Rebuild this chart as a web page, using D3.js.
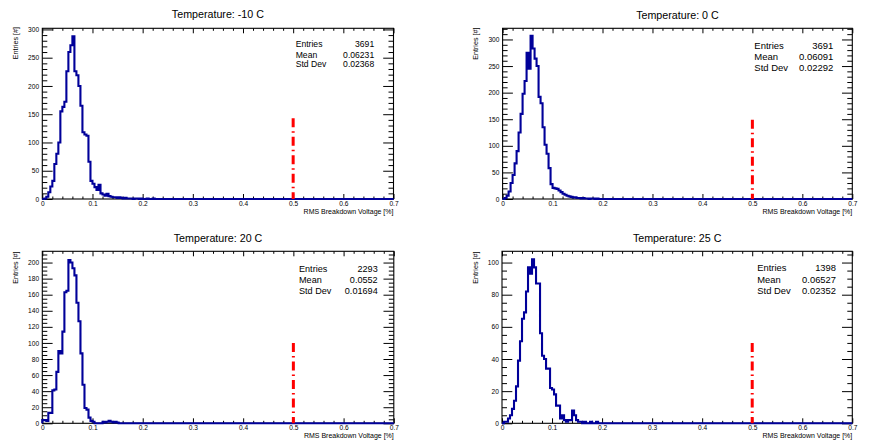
<!DOCTYPE html>
<html><head><meta charset="utf-8">
<script src="https://cdn.jsdelivr.net/npm/d3@7"></script>
<style>
body{margin:0;background:#fff}
svg{display:block}
text{font-family:"Liberation Sans",Arial,Helvetica,sans-serif;fill:#000}
</style>
</head><body>
<svg id="c" width="871" height="447"></svg>
<script>
// ---------------- data ----------------
const binWidth = 0.004;
const nBins = 175;
const xMaxValue = 0.7;
const xMajorTicks = [0, 0.1, 0.2, 0.3, 0.4, 0.5, 0.6, 0.7];
const xTickLabels = ["0", "0.1", "0.2", "0.3", "0.4", "0.5", "0.6", "0.7"];
const xMinorStep = 0.02;
const xTitle = "RMS Breakdown Voltage [%]";
const yTitle = "Entries [#]";

const titles = ["Temperature: -10 C", "Temperature: 0 C", "Temperature: 20 C", "Temperature: 25 C"];
const statLabels = ["Entries", "Mean", "Std Dev"];
const entries = ["3691", "3691", "2293", "1398"];
const means = ["0.06231", "0.06091", "0.0552", "0.06527"];
const stdDevs = ["0.02368", "0.02292", "0.01694", "0.02352"];

const countsM10 = [0,1,4,12,22,32,62,80,100,155,163,172,226,260,272,288,226,219,200,165,118,114,112,66,32,27,21,16,25,10,8,6,9,5,4,3,3,2,3,2,1,2,1,1,1,0,1,1,0,1,0,0,1,0,0,1];
const counts0   = [0,2,6,14,30,45,67,90,125,160,198,222,275,245,307,283,264,250,192,180,135,102,85,58,28,21,20,19,16,13,10,8,6,5,4,3,3,2,2,1,2,1,1,0,1,1,0,1];
const counts20  = [4,4,3,13,13,41,42,64,90,87,114,163,165,203,200,193,184,150,127,87,48,19,17,7,3,2,0,0,0,0,2,1,2,3,2,1,2,1];
const counts25  = [0,1,1,3,5,9,14,23,39,51,65,69,82,97,93,102,97,87,87,56,42,40,34,34,22,21,18,11,11,3,5,2,1,2,2,8,5,2,1,1,0,1,0,0,1,0,0,1];

const yMax = [302, 321, 214, 107];
const yMajorStep = [50, 50, 20, 20];
const yMinorStep = [10, 10, 5, 5];
const cutValue = 0.5;
const cutHeights = [143, 149, 100, 50];

// ---------------- layout ----------------
const allCounts = [countsM10, counts0, counts20, counts25];
const layout = [
  {x0:42.3, x1:393.5, y0:28.3, y1:199,   titleY:14.2, statX:295.7, statR:374.2, statY:[44.3,54.7,64.3], statFs:8.6, yTitleX:18, yTitleEnd:27},
  {x0:502.6, x1:852.3, y0:28.3, y1:199,  titleY:15,   statX:754.3, statR:833.3, statY:[45.3,56.5,67.3], statFs:9.5, yTitleX:478, yTitleEnd:27.5},
  {x0:42.3, x1:393.8, y0:251.3, y1:423.3, titleY:238.3, statX:299, statR:377.7, statY:[269,280,291], statFs:9.1, yTitleX:18, yTitleEnd:251.5},
  {x0:502, x1:852.3, y0:251.3, y1:423.3, titleY:238.3, statX:757.3, statR:836, statY:[268,279.7,291], statFs:9.4, yTitleX:478, yTitleEnd:251.5}
];
const histColor = "#000099";

const svg = d3.select("#c");

layout.forEach((L, p) => {
  const g = svg.append("g");
  const x = d3.scaleLinear().domain([0, xMaxValue]).range([L.x0, L.x1]);
  const y = d3.scaleLinear().domain([0, yMax[p]]).range([L.y1, L.y0]);

  const xMinor = d3.range(0, xMaxValue + 1e-9, xMinorStep).filter(v => Math.abs(v*10 - Math.round(v*10)) > 1e-6);
  const yMaj = d3.range(0, yMax[p] + 1e-9, yMajorStep[p]);
  const yMin = d3.range(0, yMax[p] + 1e-9, yMinorStep[p]).filter(v => v % yMajorStep[p] !== 0);

  const styleAxis = (sel, fs) => {
    sel.select(".domain").remove();
    sel.selectAll("line").attr("stroke", "#000").attr("stroke-width", 1);
    sel.selectAll("text").style("font-size", fs + "px").attr("fill", "#000");
  };

  // bottom axis
  g.append("g").attr("transform", `translate(0,${L.y1})`)
    .call(d3.axisBottom(x).tickValues(xMajorTicks).tickSize(-5).tickPadding(2)
      .tickFormat((d, i) => xTickLabels[i]))
    .call(s => styleAxis(s, 6.6));
  g.append("g").attr("transform", `translate(0,${L.y1})`)
    .call(d3.axisBottom(x).tickValues(xMinor).tickSize(-2.5).tickFormat(""))
    .call(s => styleAxis(s, 6.6));
  // top axis mirrored
  g.append("g").attr("transform", `translate(0,${L.y0})`)
    .call(d3.axisTop(x).tickValues(xMajorTicks).tickSize(-5).tickFormat(""))
    .call(s => styleAxis(s, 6.6));
  g.append("g").attr("transform", `translate(0,${L.y0})`)
    .call(d3.axisTop(x).tickValues(xMinor).tickSize(-2.5).tickFormat(""))
    .call(s => styleAxis(s, 6.6));
  // left axis
  g.append("g").attr("transform", `translate(${L.x0},0)`)
    .call(d3.axisLeft(y).tickValues(yMaj).tickSize(-10.3).tickPadding(3.2).tickFormat(d3.format("d")))
    .call(s => styleAxis(s, 6.6));
  g.append("g").attr("transform", `translate(${L.x0},0)`)
    .call(d3.axisLeft(y).tickValues(yMin).tickSize(-5).tickFormat(""))
    .call(s => styleAxis(s, 6.6));
  // right axis mirrored
  g.append("g").attr("transform", `translate(${L.x1},0)`)
    .call(d3.axisRight(y).tickValues(yMaj).tickSize(-10.3).tickFormat(""))
    .call(s => styleAxis(s, 6.6));
  g.append("g").attr("transform", `translate(${L.x1},0)`)
    .call(d3.axisRight(y).tickValues(yMin).tickSize(-5).tickFormat(""))
    .call(s => styleAxis(s, 6.6));

  // frame
  g.append("rect").attr("x", L.x0).attr("y", L.y0)
    .attr("width", L.x1 - L.x0).attr("height", L.y1 - L.y0)
    .attr("fill", "none").attr("stroke", "#000").attr("stroke-width", 1.1);

  // histogram
  const c = allCounts[p];
  const pts = d3.range(nBins).map(i => [i * binWidth, c[i] || 0]);
  pts.push([xMaxValue, 0]);
  const line = d3.line().x(d => x(d[0])).y(d => y(d[1])).curve(d3.curveStepAfter);
  g.append("path").attr("d", line([[0, 0]].concat(pts)))
    .attr("fill", "none").attr("stroke", histColor).attr("stroke-width", 2.1)
    .attr("stroke-linejoin", "miter");

  // cut line
  g.append("line")
    .attr("x1", x(cutValue)).attr("x2", x(cutValue))
    .attr("y1", y(cutHeights[p])).attr("y2", y(0))
    .attr("stroke", "#ff0000").attr("stroke-width", 3)
    .attr("stroke-dasharray", "9,4,1.5,4");

  // title
  g.append("text").attr("x", (L.x0 + L.x1) / 2).attr("y", L.titleY).attr("dy", "0.36em")
    .attr("text-anchor", "middle").style("font-size", "10.7px").text(titles[p]);

  // stats
  const vals = [entries[p], means[p], stdDevs[p]];
  statLabels.forEach((lab, i) => {
    g.append("text").attr("x", L.statX).attr("y", L.statY[i]).attr("dy", "0.36em")
      .style("font-size", L.statFs + "px").text(lab);
    g.append("text").attr("x", L.statR).attr("y", L.statY[i]).attr("dy", "0.36em")
      .attr("text-anchor", "end").style("font-size", L.statFs + "px").text(vals[i]);
  });

  // axis titles
  g.append("text").attr("x", L.x1).attr("y", L.y1 + 12).attr("dy", "0.36em")
    .attr("text-anchor", "end").style("font-size", "7px").text(xTitle);
  g.append("text").attr("transform", `translate(${L.yTitleX},${L.yTitleEnd}) rotate(-90)`)
    .attr("text-anchor", "end").style("font-size", "7.2px").text(yTitle);
});
</script>
</body></html>
